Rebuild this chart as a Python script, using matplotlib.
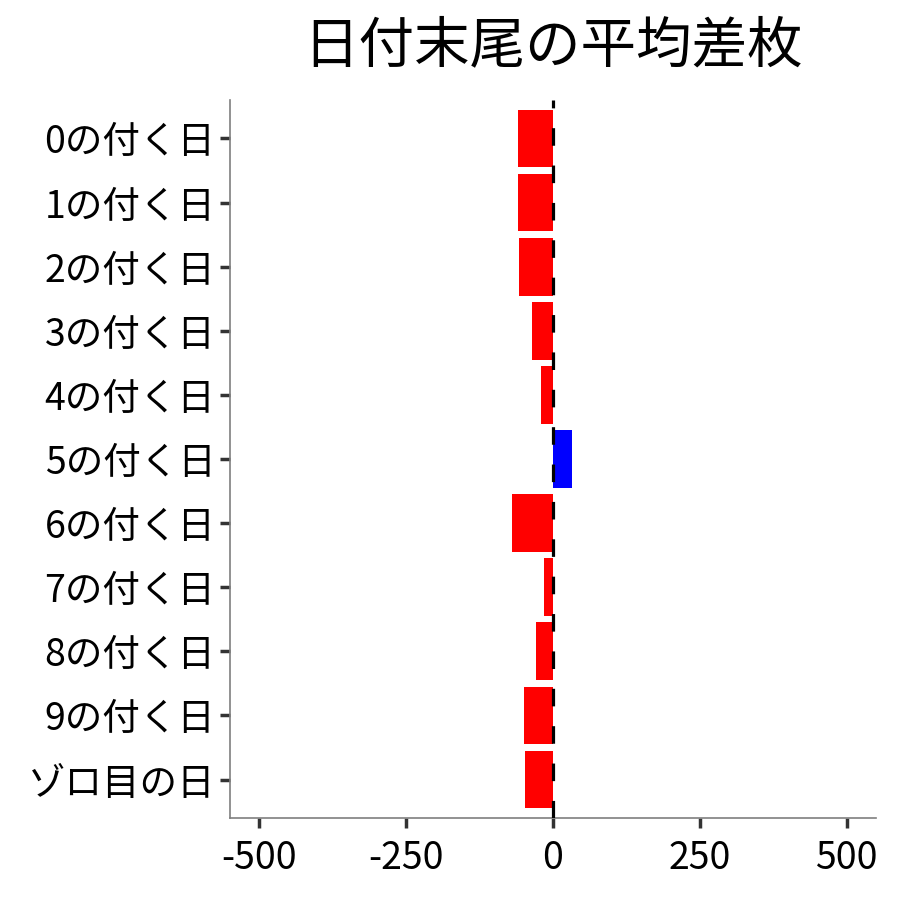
import matplotlib.pyplot as plt

plt.rcParams["font.family"] = ["Noto Sans CJK JP", "DejaVu Sans"]

labels = ["0の付く日", "1の付く日", "2の付く日", "3の付く日", "4の付く日",
          "5の付く日", "6の付く日", "7の付く日", "8の付く日", "9の付く日",
          "ゾロ目の日"]
diff = [-60, -60, -58, -36, -20, 33, -70, -15, -29, -49, -48]
colors = ["blue" if v > 0 else "red" for v in diff]

fig = plt.figure(figsize=(9, 9), dpi=100)
ax = fig.add_axes([0.2556, 0.0911, 0.7178, 0.7978])

pos = list(range(len(labels), 0, -1))
ax.barh(pos, diff, height=0.9, color=colors, zorder=2)
ax.axvline(0, color="black", linestyle=(0, (5.5, 6.2)), linewidth=2.3, zorder=3)

ax.set_xlim(-550, 550)
ax.set_ylim(0.4, len(labels) + 0.6)
ax.set_xticks([-500, -250, 0, 250, 500])
ax.set_xticklabels(["-500", "-250", "0", "250", "500"])
ax.set_yticks(pos)
ax.set_yticklabels(labels)

for s in ["top", "right"]:
    ax.spines[s].set_visible(False)
for s in ["left", "bottom"]:
    ax.spines[s].set_color("#7f7f7f")
    ax.spines[s].set_linewidth(1.2)
ax.tick_params(axis="both", colors="#333333", width=2.5, length=7,
               labelsize=27, labelcolor="black")
ax.tick_params(axis="x", pad=8)

ax.set_title("日付末尾の平均差枚", fontsize=40, pad=27)

fig.savefig("out.png", dpi=100)
